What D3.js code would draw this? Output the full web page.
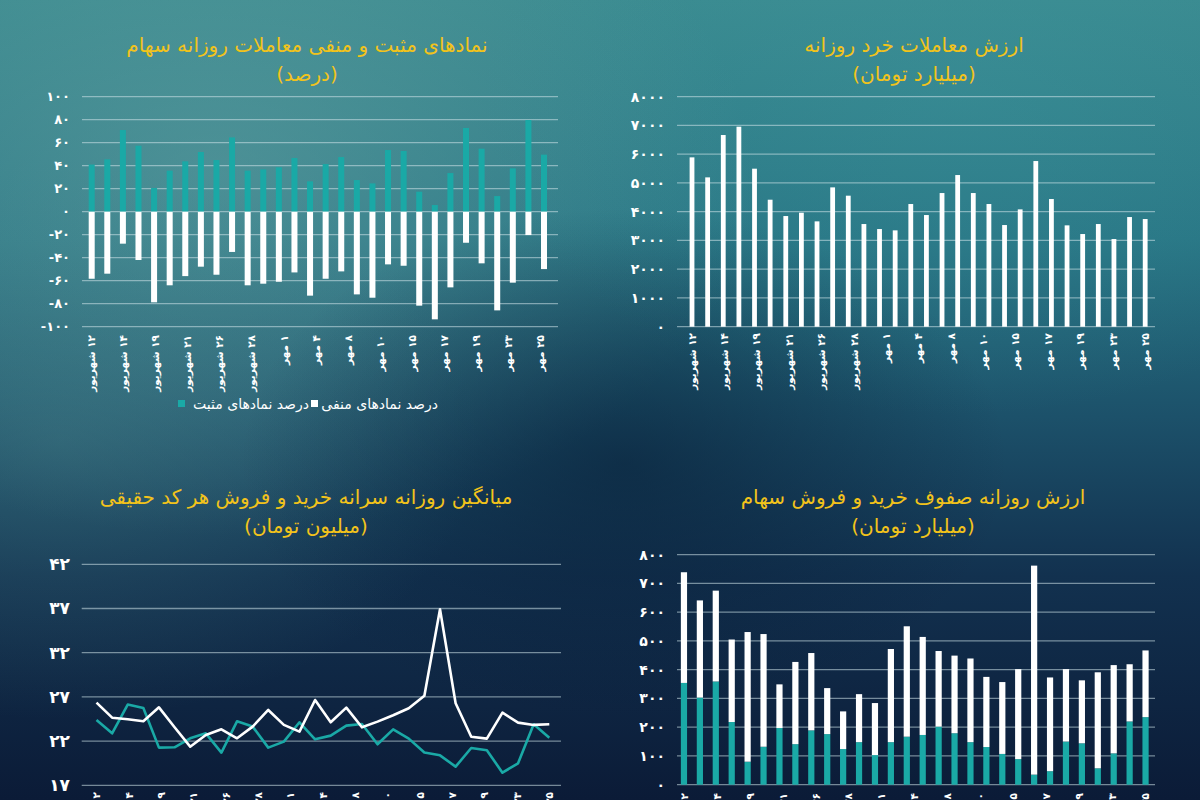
<!DOCTYPE html>
<html><head><meta charset="utf-8">
<script src="https://cdn.jsdelivr.net/npm/d3@7/dist/d3.min.js"></script>
<style>body{margin:0;background:#0b1a36;overflow:hidden} svg{display:block}</style>
</head><body><svg id="c" width="1200" height="800"></svg>
<script>
// ---------------- DATA ----------------
const dates = ["۱۲ شهریور","۱۳ شهریور","۱۴ شهریور","۱۶ شهریور","۱۹ شهریور","۲۰ شهریور","۲۱ شهریور","۲۲ شهریور","۲۶ شهریور","۲۷ شهریور","۲۸ شهریور","۳۰ شهریور","۱ مهر","۳ مهر","۴ مهر","۵ مهر","۸ مهر","۹ مهر","۱۰ مهر","۱۲ مهر","۱۵ مهر","۱۶ مهر","۱۷ مهر","۱۸ مهر","۱۹ مهر","۲۲ مهر","۲۳ مهر","۲۴ مهر","۲۵ مهر","۲۶ مهر"];
const xTickLabels = ["۱۲ شهریور","۱۴ شهریور","۱۹ شهریور","۲۱ شهریور","۲۶ شهریور","۲۸ شهریور","۱ مهر","۴ مهر","۸ مهر","۱۰ مهر","۱۵ مهر","۱۷ مهر","۱۹ مهر","۲۳ مهر","۲۵ مهر"];

// Chart 1: positive / negative symbols (%)
const positivePct = [41,45.5,71,57.4,20.6,35.7,43.8,51.9,44.9,64.6,35.7,36.8,38.6,46.7,26.4,41.4,47.5,27.5,24.6,53.6,52.8,17.4,5.8,33.6,72.8,54.8,13.6,37.7,79.7,49.6];
const negativePct = [-58.3,-53.9,-27.8,-42,-78.8,-64,-56,-47.8,-54.8,-35,-64,-62.6,-60.9,-52.8,-73,-58.3,-51.9,-71.9,-74.8,-45.8,-47,-81.7,-93.6,-65.8,-27,-44.9,-85.8,-61.7,-20.3,-49.9];
const pctTicks = [-100,-80,-60,-40,-20,0,20,40,60,80,100];

// Chart 2: retail trading value (billion toman)
const retailValue = [5890,5194,6667,6957,5496,4417,3849,3965,3664,4846,4557,3571,3397,3351,4267,3884,4649,5275,4649,4267,3536,4081,5762,4441,3525,3223,3571,3049,3814,3745];
const retailTicks = [0,1000,2000,3000,4000,5000,6000,7000,8000];

// Chart 3: per-capita buy / sell per individual code (million toman)
const perCapitaWhite = [26.35,24.65,24.47,24.24,25.82,23.56,21.37,22.69,23.33,22.32,23.64,25.52,23.83,23.07,26.65,24.13,25.79,23.56,24.2,24.92,25.71,27.14,36.91,26.28,22.5,22.28,25.22,24.09,23.83,23.9];
const perCapitaTeal = [24.39,22.88,26.13,25.75,21.26,21.3,22.32,22.88,20.7,24.24,23.64,21.26,21.94,24.13,22.2,22.62,23.75,23.94,21.64,23.33,22.28,20.7,20.39,19.11,21.22,20.96,18.43,19.49,23.9,22.39];
const perCapitaTicks = [17,22,27,32,37,42];

// Chart 4: buy / sell queues value (billion toman)
const queueTeal = [354,303,359,218,80,132,197,141,189,176,124,148,103,148,167,173,202,179,148,131,107,89,35,47,150,144,57,109,220,235];
const queueWhite = [385,338,316,287,451,392,152,286,269,160,131,167,181,324,384,341,263,270,291,244,250,313,727,326,252,219,334,307,199,232];
const queueTicks = [0,100,200,300,400,500,600,700,800];

// ---------------- HELPERS ----------------
const FA = "۰۱۲۳۴۵۶۷۸۹";
const fa = v => String(v).replace(/[0-9]/g, d => FA[+d]);
const TEAL = "#1aa9a6", YELLOW = "#f2c31b", GRID = "rgba(205,225,232,0.55)";
const FONT = "'DejaVu Sans', 'Noto Sans', sans-serif";

const svg = d3.select("#c");
const defs = svg.append("defs");

// background
const lg = defs.append("linearGradient").attr("id","bg").attr("x1",0).attr("y1",0).attr("x2",0).attr("y2",1);
[["0%","#3a8a8f"],["30%","#287584"],["52%","#1c516a"],["72%","#12314f"],["100%","#0b1b37"]]
  .forEach(([o,c]) => lg.append("stop").attr("offset",o).attr("stop-color",c));
svg.append("rect").attr("width",1200).attr("height",800).attr("fill","url(#bg)");
function radial(id, cx, cy, r, color, op) {
  const g = defs.append("radialGradient").attr("id",id).attr("cx",cx).attr("cy",cy).attr("r",r);
  g.append("stop").attr("offset","0%").attr("stop-color",color).attr("stop-opacity",op);
  g.append("stop").attr("offset","100%").attr("stop-color",color).attr("stop-opacity",0);
  svg.append("rect").attr("width",1200).attr("height",800).attr("fill",`url(#${id})`);
}
radial("hl", 0.18, 0.22, 0.45, "#72aaa8", 0.45);
radial("hl3", 0.05, 0.55, 0.35, "#4e8a8e", 0.35);
radial("hl2", 0.8, 0.12, 0.4, "#3f9aa3", 0.3);
radial("dk", 0.52, 0.58, 0.32, "#061a33", 0.55);

function title(cx, y1, t1, t2) {
  const g = svg.append("g").attr("font-family", FONT).attr("fill", YELLOW).attr("text-anchor","middle").attr("direction","rtl");
  g.append("text").attr("x",cx).attr("y",y1).attr("font-size",20).text(t1);
  g.append("text").attr("x",cx).attr("y",y1+29).attr("font-size",20).text(t2);
}
function grid(y, ticks, x0, x1) {
  svg.append("g").selectAll("line").data(ticks).join("line")
    .attr("x1",x0).attr("x2",x1).attr("y1",d=>y(d)).attr("y2",d=>y(d))
    .attr("stroke",GRID).attr("stroke-width",1.3);
}
function yLabels(y, ticks, xr, size) {
  svg.append("g").attr("font-family",FONT).attr("font-weight","bold").attr("font-size",size)
    .attr("fill","#fff").attr("text-anchor","end")
    .selectAll("text").data(ticks).join("text")
    .attr("x",xr).attr("y",d=>y(d)).attr("dy","0.35em").attr("direction","ltr")
    .text(d => d < 0 ? "-" + fa(-d) : fa(d));
}
function xLabels(x0, x1, ytop, size) {
  const lx = d3.scalePoint().domain(xTickLabels).range([x0, x1]);
  svg.append("g").attr("font-family",FONT).attr("font-weight","bold").attr("font-size",size).attr("fill","#fff")
    .selectAll("text").data(xTickLabels).join("text")
    .attr("direction","rtl").attr("text-anchor","start")
    .attr("transform", d => `translate(${lx(d)},${ytop}) rotate(-90)`)
    .attr("dy","0.35em").text(d => d);
}

// ---------------- CHART 1 (top-left) ----------------
{
  const x = d3.scaleBand().domain(dates).range([83.9, 551.8]).paddingInner(0.615).paddingOuter(0.3075);
  const y = d3.scaleLinear().domain([-100,100]).range([326.7, 96.7]);
  title(307, 52, "نمادهای مثبت و منفی معاملات روزانه سهام", "(درصد)");
  grid(y, pctTicks, 82, 558);
  yLabels(y, pctTicks, 70, 13);
  svg.append("g").selectAll("rect").data(positivePct).join("rect")
    .attr("x",(d,i)=>x(dates[i])).attr("width",x.bandwidth())
    .attr("y",d=>y(d)).attr("height",d=>y(0)-y(d)).attr("fill",TEAL);
  svg.append("g").selectAll("rect").data(negativePct).join("rect")
    .attr("x",(d,i)=>x(dates[i])).attr("width",x.bandwidth())
    .attr("y",y(0)).attr("height",d=>y(d)-y(0)).attr("fill","#fff");
  const c = x.bandwidth()/2;
  xLabels(x(dates[0])+c, 540, 335, 10.5);
  // legend
  const lgd = svg.append("g").attr("font-family",FONT).attr("font-size",14).attr("fill","#fff");
  lgd.append("rect").attr("x",178).attr("y",400).attr("width",7).attr("height",7).attr("fill",TEAL);
  lgd.append("text").attr("x",309).attr("y",409).attr("text-anchor","end").attr("direction","ltr").text("درصد نمادهای مثبت");
  lgd.append("rect").attr("x",311).attr("y",400).attr("width",7).attr("height",7).attr("fill","#fff");
  lgd.append("text").attr("x",438).attr("y",409).attr("text-anchor","end").attr("direction","ltr").text("درصد نمادهای منفی");
}

// ---------------- CHART 2 (top-right) ----------------
{
  const x = d3.scaleBand().domain(dates).range([684.2, 1153.0]).paddingInner(0.693).paddingOuter(0.3465);
  const y = d3.scaleLinear().domain([0,8000]).range([326.7, 96.7]);
  title(914, 52, "ارزش معاملات خرد روزانه", "(میلیارد تومان)");
  grid(y, retailTicks, 677, 1155);
  yLabels(y, retailTicks, 665, 14);
  svg.append("g").selectAll("rect").data(retailValue).join("rect")
    .attr("x",(d,i)=>x(dates[i])).attr("width",x.bandwidth())
    .attr("y",d=>y(d)).attr("height",d=>y(0)-y(d)).attr("fill","#fff");
  const c = x.bandwidth()/2;
  xLabels(x(dates[0])+c, x(dates[29])+c, 333, 10.5);
}

// ---------------- CHART 3 (bottom-left) ----------------
{
  const x = d3.scalePoint().domain(dates).range([96.5, 549.3]);
  const y = d3.scaleLinear().domain([17,42]).range([785.3, 564.3]);
  title(306, 504, "میانگین روزانه سرانه خرید و فروش هر کد حقیقی", "(میلیون تومان)");
  grid(y, perCapitaTicks, 81.7, 561);
  yLabels(y, perCapitaTicks, 70, 17);
  const line = d3.line().x((d,i)=>x(dates[i])).y(d=>y(d));
  svg.append("path").datum(perCapitaTeal).attr("d",line).attr("fill","none").attr("stroke",TEAL).attr("stroke-width",2.6).attr("stroke-linejoin","round");
  svg.append("path").datum(perCapitaWhite).attr("d",line).attr("fill","none").attr("stroke","#fff").attr("stroke-width",2.6).attr("stroke-linejoin","round");
  xLabels(x(dates[0]), x(dates[29]), 792, 10.5);
}

// ---------------- CHART 4 (bottom-right) ----------------
{
  const x = d3.scaleBand().domain(dates).range([676, 1153.5]).paddingInner(0.61).paddingOuter(0.305);
  const y = d3.scaleLinear().domain([0,800]).range([784.7, 554.7]);
  title(913, 504, "ارزش روزانه صفوف خرید و فروش سهام", "(میلیارد تومان)");
  grid(y, queueTicks, 677, 1155);
  yLabels(y, queueTicks, 665, 14);
  const stack = d3.stack().keys(["teal","white"])(dates.map((d,i)=>({teal:queueTeal[i], white:queueWhite[i]})));
  const colors = [TEAL, "#fff"];
  stack.forEach((s,k) => {
    svg.append("g").selectAll("rect").data(s).join("rect")
      .attr("x",(d,i)=>x(dates[i])).attr("width",x.bandwidth())
      .attr("y",d=>y(d[1])).attr("height",d=>y(d[0])-y(d[1])).attr("fill",colors[k]);
  });
  const c = x.bandwidth()/2;
  xLabels(x(dates[0])+c, x(dates[29])+c, 793, 10.5);
}
</script></body></html>
